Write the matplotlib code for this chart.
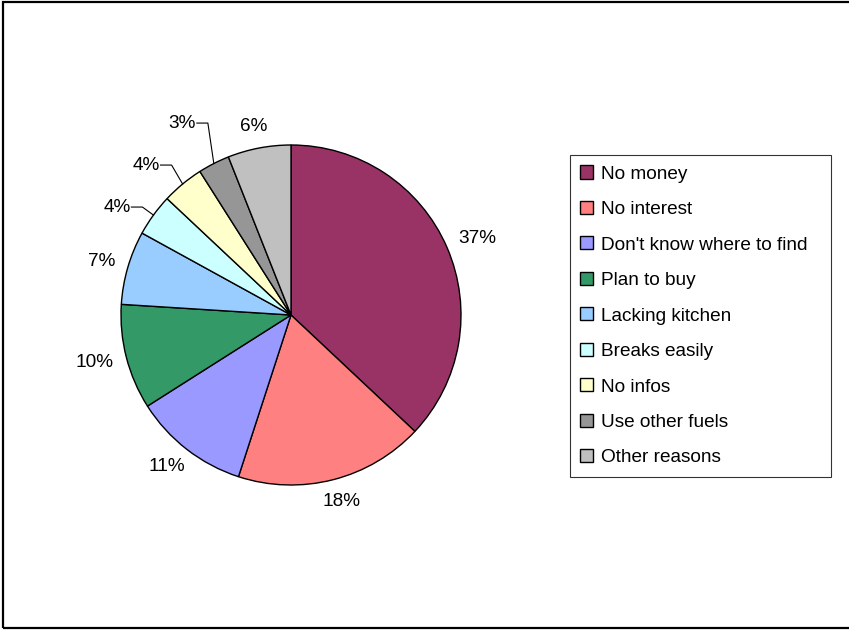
import numpy as np
import matplotlib
matplotlib.use("Agg")
import matplotlib.pyplot as plt
from matplotlib.patches import Rectangle, Patch

plt.rcParams['font.family'] = ['Liberation Sans', 'DejaVu Sans']

reasons = ["No money", "No interest", "Don't know where to find", "Plan to buy",
           "Lacking kitchen", "Breaks easily", "No infos", "Use other fuels",
           "Other reasons"]
shares = [37, 18, 11, 10, 7, 4, 4, 3, 6]
colors = ["#993366", "#FF8080", "#9999FF", "#339966", "#99CCFF",
          "#CCFFFF", "#FFFFCC", "#969696", "#C0C0C0"]

W, H = 849, 630
fig = plt.figure(figsize=(W / 100, H / 100), dpi=100)

# outer chart frame
fig.patches.append(Rectangle((3 / W, 2 / H), 1.2, 626 / H, transform=fig.transFigure,
                             fill=False, edgecolor="black", linewidth=1.6, zorder=0))

cx, cy, R = 291, 315, 170  # pie centre / radius in pixels
span = 1.5
ax = fig.add_axes([(cx - span * R) / W, (H - cy - span * R) / H,
                   2 * span * R / W, 2 * span * R / H])

wedges, _ = ax.pie(shares, colors=colors, startangle=90, counterclock=False,
                   radius=1.0, wedgeprops=dict(edgecolor="black", linewidth=1.0))
ax.set_xlim(-span, span)
ax.set_ylim(-span, span)
ax.set_aspect("auto")
ax.axis("off")

total = float(sum(shares))
fs = 13.7
# small slices get their label pulled out with an elbow leader line
elbow = {5: (0.065, 0.635), 6: (0.065, 0.882), 7: (0.035, 1.129)}
renderer = fig.canvas.get_renderer()
cum = 0.0
for i, v in enumerate(shares):
    mid = np.deg2rad(90 - 360 * (cum + v / 2) / total)
    cum += v
    txt = f"{v}%"
    px, py = np.cos(mid), np.sin(mid)
    if i in elbow:
        dx, ey = elbow[i]
        ex = px - dx
        sx = ex - 0.065
        ax.plot([sx, ex, px], [ey, ey, py], color="black", linewidth=0.8)
        ax.text(sx - 0.005, ey, txt, ha="right", va="center", fontsize=fs)
    else:
        # anchor just outside the rim, text box pushed outward by half its size
        r = 1.08
        t = ax.text(r * px, r * py, txt, ha="center", va="center", fontsize=fs)
        bb = t.get_window_extent(renderer)
        w_d, h_d = bb.width / R, bb.height / R
        t.set_position((r * px + px * w_d / 2, r * py + py * h_d / 2))

handles = [Patch(facecolor=c, edgecolor="black", linewidth=1.0) for c in colors]
lx0, ly0, lx1, ly1 = 570, 155, 831, 476
leg = fig.legend(handles, reasons, loc="upper left", mode="expand",
                 bbox_to_anchor=(lx0 / W, 1 - ly1 / H, (lx1 - lx0) / W, (ly1 - ly0) / H),
                 fontsize=fs, frameon=True, fancybox=False, shadow=False,
                 borderaxespad=0, handlelength=0.68, handleheight=0.68,
                 handletextpad=0.4, labelspacing=0.96, borderpad=0.55)
leg.get_frame().set_edgecolor("black")
leg.get_frame().set_linewidth(0.8)

fig.savefig("out.png", dpi=100)
